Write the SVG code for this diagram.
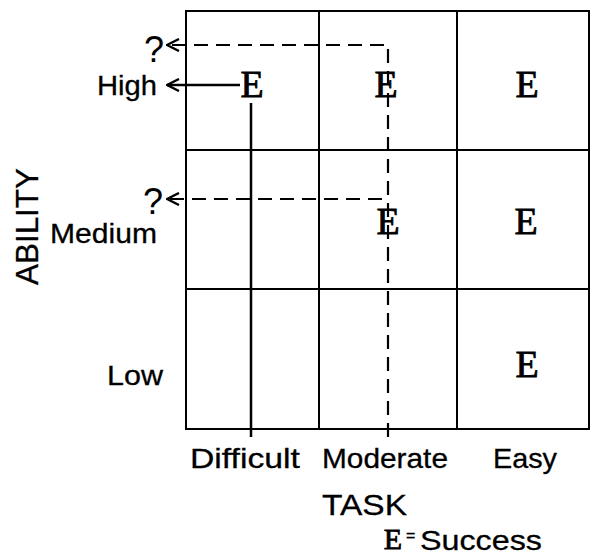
<svg xmlns="http://www.w3.org/2000/svg" width="591" height="557" viewBox="0 0 591 557">
<style>
.grid{fill:none;stroke:#000;stroke-width:2}
.solid{stroke:#000;stroke-width:2.5;fill:none}
.dash{stroke:#000;stroke-width:2.2;fill:none;stroke-dasharray:14 8}
.e{font-family:"Liberation Serif",serif;font-size:38px;text-anchor:middle;fill:#000;stroke:#000;stroke-width:0.8}
.lbl{font-family:"Liberation Sans",Arial,sans-serif;font-size:28px;fill:#000;stroke:#000;stroke-width:0.3}
.q{font-family:"Liberation Sans",Arial,sans-serif;font-size:36px;fill:#000}
</style>
<defs>
<marker id="arr" viewBox="0 0 14 14" refX="13" refY="7" markerWidth="14" markerHeight="14" markerUnits="userSpaceOnUse" orient="auto">
<path d="M1,1 L13,7 L1,13" fill="none" stroke="#000" stroke-width="2.4"/>
</marker>
</defs>
<rect width="591" height="557" fill="#fff"/>
<g id="grid">
<rect class="grid" x="186" y="11" width="403" height="418"/>
<line class="grid" x1="319" y1="11" x2="319" y2="429"/>
<line class="grid" x1="457" y1="11" x2="457" y2="429"/>
<line class="grid" x1="186" y1="150" x2="589" y2="150"/>
<line class="grid" x1="186" y1="289" x2="589" y2="289"/>
</g>
<g id="connectors">
<line class="solid" x1="240" y1="85" x2="167" y2="85" marker-end="url(#arr)"/>
<line class="solid" x1="251" y1="103" x2="251" y2="437"/>
<polyline class="dash" points="388,437 388,45 167,45" marker-end="url(#arr)"/>
<line class="dash" x1="382" y1="199" x2="167" y2="199" marker-end="url(#arr)"/>
</g>
<g id="cells">
<text class="e" x="252" y="97">E</text>
<text class="e" x="386" y="97">E</text>
<text class="e" x="527" y="97">E</text>
<text class="e" x="388" y="234">E</text>
<text class="e" x="526" y="234">E</text>
<text class="e" x="527" y="377">E</text>
</g>
<g id="ability-labels">
<text class="q" x="144" y="62">?</text>
<text class="q" x="143" y="214">?</text>
<text class="lbl" x="97" y="95" textLength="60" lengthAdjust="spacingAndGlyphs">High</text>
<text class="lbl" x="50" y="243" textLength="107" lengthAdjust="spacingAndGlyphs">Medium</text>
<text class="lbl" x="107" y="385" textLength="56" lengthAdjust="spacingAndGlyphs">Low</text>
<text class="lbl" transform="translate(38,285) rotate(-90)" style="font-size:31px" textLength="117" lengthAdjust="spacingAndGlyphs">ABILITY</text>
</g>
<g id="task-labels">
<text class="lbl" x="190" y="468" textLength="110" lengthAdjust="spacingAndGlyphs">Difficult</text>
<text class="lbl" x="322" y="468" textLength="126" lengthAdjust="spacingAndGlyphs">Moderate</text>
<text class="lbl" x="493" y="468" textLength="64" lengthAdjust="spacingAndGlyphs">Easy</text>
<text class="lbl" x="322" y="515" style="font-size:30px" textLength="85" lengthAdjust="spacingAndGlyphs">TASK</text>
</g>
<g id="legend">
<text class="e" x="393" y="549" style="font-size:30px">E</text>
<text class="lbl" x="406" y="541" style="font-size:16px">=</text>
<text class="lbl" x="420" y="550" textLength="122" lengthAdjust="spacingAndGlyphs">Success</text>
</g>
</svg>
